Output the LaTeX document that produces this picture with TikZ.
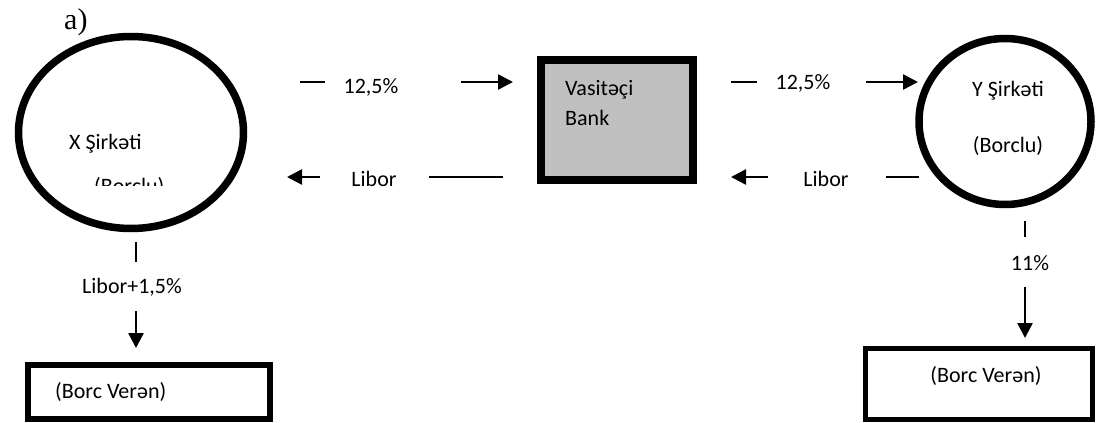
\documentclass[tikz,border=0pt]{standalone}
\usepackage{fontspec}
\setmainfont{Carlito}
\newfontfamily\serifa{Liberation Serif}
\usetikzlibrary{arrows.meta}
\definecolor{bankgray}{HTML}{C0C0C0}
\tikzset{
  lbl/.style={inner sep=0pt,font=\fontsize{22}{26}\selectfont},
  conn/.style={line width=2.6pt},
  arr/.style={line width=2.6pt,-{Triangle[length=15pt,width=15pt]}},
  party/.style={line width=7.5pt},
}
\begin{document}
\begin{tikzpicture}[x=1pt,y=-1pt]
\useasboundingbox (0,0) rectangle (1096,423);
% title
\node[inner sep=0pt,anchor=base west,font=\serifa\fontsize{30}{34}\selectfont] (title) at (64,30) {a)};
% left company ellipse
\draw[party] (131,132.5) ellipse [x radius=112.5,y radius=96];
\node[lbl,anchor=base west] (xname) at (69,149) {X Şirkəti};
\begin{scope}
\clip (0,0) rectangle (1096,185.5);
\node[lbl,anchor=base west] (xborc) at (94,193) {(Borclu)};
\end{scope}
% bank
\draw[line width=8pt,fill=bankgray] (541,60) rectangle (693,180);
\node[lbl,anchor=base west] (bank1) at (565,95) {Vasitəçi};
\node[lbl,anchor=base west] (bank2) at (565,125) {Bank};
% right company circle
\draw[party] (1005,121.5) ellipse [x radius=86,y radius=83];
\node[lbl,anchor=base] (yname) at (1008,96) {Y Şirkəti};
\node[lbl,anchor=base] (yborc) at (1008,152) {(Borclu)};
% lenders
\draw[line width=6pt] (28,365) rectangle (270,419);
\node[lbl,anchor=base west] (lend1) at (55,398) {(Borc Verən)};
\draw[line width=5pt] (865.5,348.5) rectangle (1092.5,419.5);
\node[lbl,anchor=base] (lend2) at (986,382) {(Borc Verən)};
% top-left: X -> bank 12,5%
\coordinate (a1) at (300,82); \coordinate (a2) at (325,82);
\coordinate (a3) at (461,82); \coordinate (a4) at (513,82);
\draw[conn] (a1) -- (a2);
\node[lbl,anchor=base] (l1) at (371,93) {12,5\%};
\draw[arr] (a3) -- (a4);
% bottom-left: bank -> X Libor
\coordinate (b1) at (503,177); \coordinate (b2) at (429,177);
\coordinate (b3) at (320,177); \coordinate (b4) at (287,177);
\draw[conn] (b1) -- (b2);
\node[lbl,anchor=base] (l2) at (374,186) {Libor};
\draw[arr] (b3) -- (b4);
% top-right: bank -> Y 12,5%
\coordinate (c1) at (731,82); \coordinate (c2) at (757,82);
\coordinate (c3) at (866,82); \coordinate (c4) at (918,82);
\draw[conn] (c1) -- (c2);
\node[lbl,anchor=base] (l3) at (803,89) {12,5\%};
\draw[arr] (c3) -- (c4);
% bottom-right: Y -> bank Libor
\coordinate (d1) at (919,177); \coordinate (d2) at (886,177);
\coordinate (d3) at (768,177); \coordinate (d4) at (731,177);
\draw[conn] (d1) -- (d2);
\node[lbl,anchor=base] (l4) at (826,186) {Libor};
\draw[arr] (d3) -- (d4);
% left vertical: X -> lender
\coordinate (e1) at (136,242); \coordinate (e2) at (136,262);
\coordinate (e3) at (136,311); \coordinate (e4) at (136,348);
\draw[conn] (e1) -- (e2);
\node[lbl,anchor=base] (l5) at (132,293) {Libor+1,5\%};
\draw[arr] (e3) -- (e4);
% right vertical: Y -> lender
\coordinate (f1) at (1025,221); \coordinate (f2) at (1025,237);
\coordinate (f3) at (1025,287); \coordinate (f4) at (1025,338);
\draw[conn] (f1) -- (f2);
\node[lbl,anchor=base] (l6) at (1030,270) {11\%};
\draw[arr] (f3) -- (f4);
\end{tikzpicture}
\end{document}
